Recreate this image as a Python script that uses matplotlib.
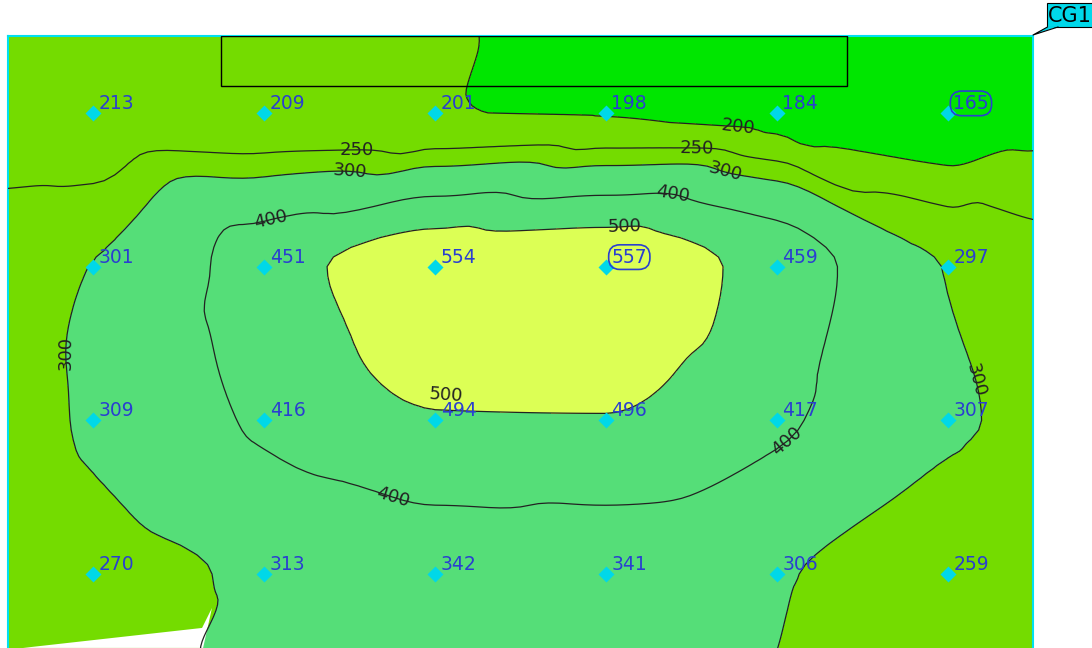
import matplotlib
matplotlib.use("Agg")
import matplotlib.pyplot as plt
import matplotlib.tri as mtri
import numpy as np

# measuring grid (cell centres) and room edges, in cell units
x_pos = [0, 0.5, 1.5, 2.5, 3.5, 4.5, 5.5, 6]
y_pos = [0, 0.5, 1.5, 2.5, 3.5, 4]

# illuminance values at the 6x4 grid points (lux)
row1 = [213, 209, 201, 198, 184, 165]
row2 = [301, 451, 554, 557, 459, 297]
row3 = [309, 416, 494, 496, 417, 307]
row4 = [270, 313, 342, 341, 306, 259]

# estimated values along the room walls
wall_top = [214, 215, 211, 203, 190, 180, 164, 160]
wall_bottom = [255, 262, 320, 335, 334, 300, 257, 255]
wall_left = [212, 290, 280, 260]
wall_right = [180, 272, 292, 255]

fill_levels = [0, 200, 300, 500, 1000]
fill_colors = ["#00e600", "#74dc00", "#55de78", "#dcff55"]
line_levels = [200, 250, 300, 400, 500]

# contour label spots (cell units), per level
label_spots = {
    200: [(4.27, 0.68)],
    250: [(2.04, 0.81), (4.03, 0.82)],
    300: [(2.0, 0.94), (4.18, 0.96), (0.37, 2.06), (5.72, 2.22)],
    400: [(1.55, 1.26), (3.88, 1.12), (2.27, 2.94), (4.54, 2.61)],
    500: [(3.61, 1.31), (2.57, 2.25)],
}

grid = [wall_top]
for i, r in enumerate([row1, row2, row3, row4]):
    grid.append([wall_left[i]] + r + [wall_right[i]])
grid.append(wall_bottom)
Z = np.array(grid, dtype=float)
X, Y = np.meshgrid(x_pos, y_pos)


def mono_slopes(c, v):
    # shape preserving (pchip style) slopes along one grid line
    c = np.asarray(c, float)
    h = np.diff(c)
    d = np.diff(v) / h
    s = np.zeros(len(v))
    s[0], s[-1] = d[0], d[-1]
    for k in range(1, len(v) - 1):
        if d[k - 1] * d[k] > 0:
            w1 = 2 * h[k] + h[k - 1]
            w2 = h[k] + 2 * h[k - 1]
            s[k] = (w1 + w2) / (w1 / d[k - 1] + w2 / d[k])
    return s


dzdx = np.array([mono_slopes(x_pos, Z[j]) for j in range(Z.shape[0])])
dzdy = np.array([mono_slopes(y_pos, Z[:, i]) for i in range(Z.shape[1])]).T

tri = mtri.Triangulation(X.ravel(), Y.ravel())
interp = mtri.CubicTriInterpolator(tri, Z.ravel(), kind="user",
                                   dz=(dzdx.ravel(), dzdy.ravel()))
refiner = mtri.UniformTriRefiner(tri)
tri_f, z_f = refiner.refine_field(Z.ravel(), triinterpolator=interp, subdiv=4)

fig = plt.figure(figsize=(10.92, 6.48), dpi=100)
ax = fig.add_axes([8 / 1092, 0, (1033 - 8) / 1092, (648 - 36) / 648])
ax.set_xlim(0, 6)
ax.set_ylim((648 - 36) / 153.75, 0)

ax.tricontourf(tri_f, z_f, levels=fill_levels, colors=fill_colors, zorder=1)

# cut-out of the room outline at bottom left
cut = [(0.088, 3.98), (1.136, 3.85), (1.194, 3.72), (1.142, 3.98)]
ax.add_patch(plt.Polygon(cut, closed=True, fc="white", ec="none", zorder=2))

for lev in line_levels:
    cs = ax.tricontour(tri_f, z_f, levels=[lev], colors="#222222",
                       linewidths=0.9, zorder=3)
    texts = ax.clabel(cs, inline=False, manual=label_spots[lev], fontsize=13,
                      colors="#222222", fmt="%d")
    if lev == 500:
        # lower label sits inside the bright area, above its line
        tx, ty = texts[1].get_position()
        texts[1].set_position((tx, ty - 0.1))

# grid points and their values
xs = [0.5, 1.5, 2.5, 3.5, 4.5, 5.5]
ys = [0.5, 1.5, 2.5, 3.5]
vmax = max(row2)
vmin = min(row1)
for yv, r in zip(ys, [row1, row2, row3, row4]):
    for xv, v in zip(xs, r):
        ax.plot(xv, yv, marker="D", ms=8, color="#00d8e8", mec="none", zorder=5)
        box = None
        if v == vmax or v == vmin:
            box = dict(boxstyle="round,pad=0.15,rounding_size=0.6", fc="none",
                       ec="#2a3fd0", lw=1.2)
        ax.annotate(str(v), (xv, yv), xytext=(4, 0), textcoords="offset points",
                    ha="left", va="bottom", fontsize=13.5, color="#2a3fd0",
                    bbox=box, zorder=6)

# luminaire outline
ax.add_patch(plt.Rectangle((1.247, 0), 3.664, 0.325, fc="none", ec="black",
                           lw=1, zorder=4))

for s in ax.spines.values():
    s.set_color("#00e0f0")
    s.set_linewidth(1.5)
ax.spines["bottom"].set_visible(False)
ax.set_xticks([])
ax.set_yticks([])

# "CG1" callout at the room corner (figure pixel positions)
W, H = 1092, 648
cg_fc = "#00d8ea"
fig.add_artist(plt.Rectangle((1047 / W, 1 - 27 / H), 50 / W, 24 / H,
                             transform=fig.transFigure, fc=cg_fc,
                             ec="black", lw=0.8, zorder=5))
tail = [(1048 / W, 1 - 26.5 / H), (1058 / W, 1 - 26.5 / H), (1033 / W, 1 - 35 / H)]
fig.add_artist(plt.Polygon(tail, closed=True, transform=fig.transFigure,
                           fc=cg_fc, ec="none", zorder=6))
fig.add_artist(plt.Line2D([1047.5 / W, 1033 / W, 1058 / W],
                          [1 - 27 / H, 1 - 35 / H, 1 - 27 / H],
                          transform=fig.transFigure, color="black", lw=0.8,
                          zorder=7))
fig.text(1070 / W, 1 - 15.5 / H, "CG1", ha="center", va="center", fontsize=15,
         family=["Liberation Sans Narrow", "DejaVu Sans"], color="black",
         zorder=8)

fig.savefig("out.png", dpi=100)
